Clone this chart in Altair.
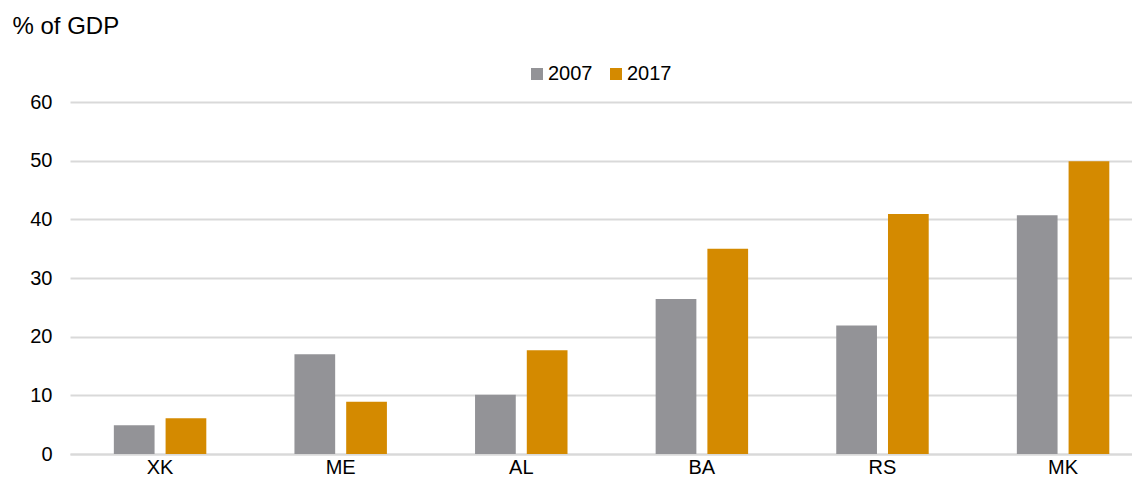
import altair as alt
import pandas as pd

countries = ["XK", "ME", "AL", "BA", "RS", "MK"]
v2007 = [4.9, 17.0, 10.1, 26.4, 21.9, 40.7]
v2017 = [6.1, 8.9, 17.7, 35.0, 40.9, 49.9]
years = ["2007", "2017"]
colors = ["#939397", "#d48a00"]

rows = []
for c, a, b in zip(countries, v2007, v2017):
    rows.append({"country": c, "year": "2007", "value": a})
    rows.append({"country": c, "year": "2017", "value": b})
df = pd.DataFrame(rows)

FONT = "Liberation Sans"

chart = alt.Chart(df).mark_bar().encode(
    x=alt.X("country:N", sort=countries,
            scale=alt.Scale(paddingInner=0.488, paddingOuter=0.1842, align=0.659),
            axis=alt.Axis(title=None, labelAngle=0, ticks=False, grid=False,
                          domainColor="#d9d9d9", domainWidth=2,
                          labelFontSize=20, labelFont=FONT, labelColor="#000000",
                          labelPadding=3)),
    xOffset=alt.XOffset("year:N", scale=alt.Scale(paddingInner=0.213, paddingOuter=0)),
    y=alt.Y("value:Q", scale=alt.Scale(domain=[0, 60]),
            axis=alt.Axis(values=[0, 10, 20, 30, 40, 50, 60], title="% of GDP",
                          titleAngle=0, titleAlign="left", titleBaseline="alphabetic",
                          titleX=-58, titleY=-69, titleFontSize=24, titleFont=FONT,
                          titleFontWeight="normal", titleColor="#000000",
                          domain=False, ticks=False, gridColor="#d9d9d9", gridWidth=2,
                          labelFontSize=20, labelFont=FONT, labelColor="#000000",
                          labelPadding=18)),
    color=alt.Color("year:N", scale=alt.Scale(domain=years, range=colors),
                    legend=alt.Legend(title=None, orient="none", direction="horizontal",
                                      legendX=457, legendY=-38, symbolType="square",
                                      symbolSize=144, symbolStrokeWidth=0,
                                      labelFontSize=20, labelFont=FONT,
                                      labelColor="#000000", labelOffset=1,
                                      columnPadding=13)),
).properties(
    width=1062, height=352,
    autosize=alt.AutoSizeParams(type="none"),
    padding={"left": 62, "top": 94, "right": 0, "bottom": 24},
).configure_view(stroke=None)

chart.save("out.html", embed_options={"renderer": "svg", "actions": False})
